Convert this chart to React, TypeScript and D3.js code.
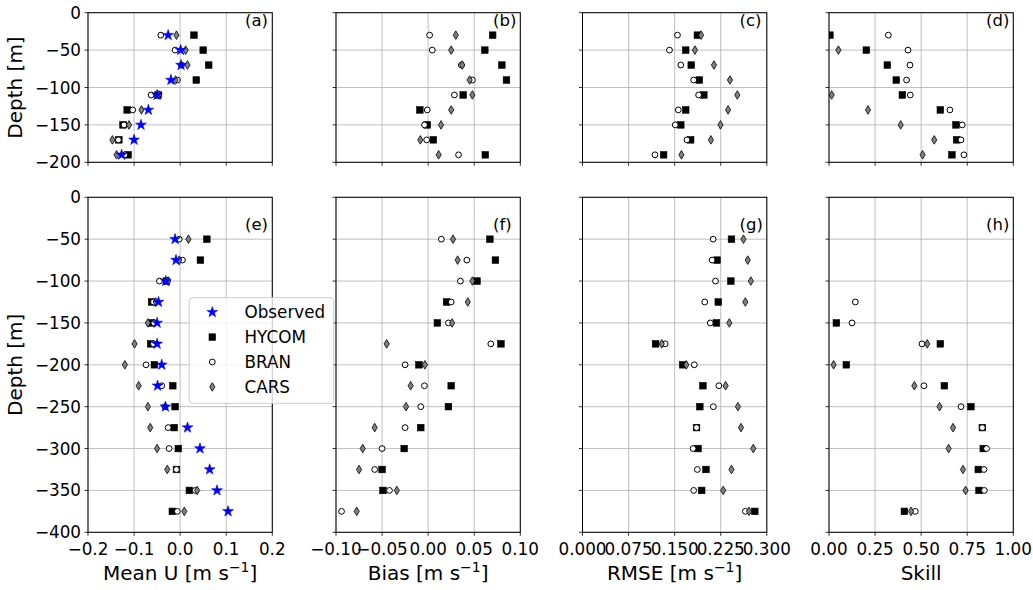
import React from 'react';
import * as d3 from 'd3';

// ---------- data ----------
const depthsTop = [-30, -50, -70, -90, -110, -130, -150, -170, -190];
const depthsBottom = [-50, -75, -100, -125, -150, -175, -200, -225, -250, -275, -300, -325, -350, -375];

// Mean U (a)
const meanObsTop = [-0.026, 0.001, 0.002, -0.02, -0.05, -0.069, -0.085, -0.1, -0.127];
const meanHycomTop = [0.03, 0.05, 0.062, 0.035, -0.048, -0.115, -0.124, -0.133, -0.113];
const meanBranTop = [-0.042, -0.011, 0.003, -0.006, -0.063, -0.103, -0.122, -0.134, -0.12];
const meanCarsTop = [-0.008, 0.012, 0.016, -0.01, -0.046, -0.084, -0.111, -0.147, -0.138];
// Mean U (e)
const meanObsBottom = [-0.011, -0.009, -0.031, -0.047, -0.05, -0.05, -0.04, -0.049, -0.032, 0.016, 0.043, 0.064, 0.08, 0.104];
const meanHycomBottom = [0.058, 0.044, -0.03, -0.062, -0.062, -0.064, -0.056, -0.016, -0.011, -0.013, -0.004, -0.008, 0.02, -0.017];
const meanBranBottom = [-0.002, 0.005, -0.045, -0.058, -0.057, -0.058, -0.074, -0.04, -0.033, -0.026, -0.024, -0.008, 0.033, -0.006];
const meanCarsBottom = [0.018, -0.002, -0.026, -0.053, -0.07, -0.099, -0.12, -0.09, -0.07, -0.065, -0.05, -0.028, 0.037, 0.009];

// Bias (b)
const biasHycomTop = [0.07, 0.0615, 0.08, 0.085, 0.038, -0.009, -0.001, 0.0056, 0.062];
const biasBranTop = [0.0016, 0.0045, 0.036, 0.048, 0.0285, -0.001, -0.004, -0.0016, 0.033];
const biasCarsTop = [0.03, 0.025, 0.037, 0.045, 0.048, 0.025, 0.014, -0.0085, 0.0114];
// Bias (f)
const biasHycomBottom = [0.067, 0.073, 0.053, 0.02, 0.01, 0.079, -0.01, 0.025, 0.022, -0.008, -0.026, -0.05, -0.049, -0.11];
const biasBranBottom = [0.0143, 0.042, 0.035, 0.025, 0.022, 0.068, -0.025, -0.004, -0.008, -0.025, -0.05, -0.058, -0.042, -0.094];
const biasCarsBottom = [0.027, 0.032, 0.048, 0.043, 0.026, -0.045, -0.0035, -0.019, -0.024, -0.058, -0.071, -0.075, -0.034, -0.0775];

// RMSE (c)
const rmseHycomTop = [0.187, 0.168, 0.177, 0.19, 0.1975, 0.168, 0.16, 0.176, 0.132];
const rmseBranTop = [0.1546, 0.1416, 0.16, 0.181, 0.189, 0.156, 0.151, 0.17, 0.118];
const rmseCarsTop = [0.193, 0.183, 0.214, 0.24, 0.252, 0.237, 0.2246, 0.209, 0.161];
// RMSE (g)
const rmseHycomBottom = [0.2425, 0.219, 0.2415, 0.221, 0.218, 0.119, 0.163, 0.196, 0.191, 0.1856, 0.188, 0.201, 0.194, 0.2805];
const rmseBranBottom = [0.2127, 0.211, 0.2165, 0.199, 0.208, 0.1346, 0.182, 0.222, 0.213, 0.1856, 0.18, 0.187, 0.181, 0.265];
const rmseCarsBottom = [0.262, 0.269, 0.274, 0.265, 0.239, 0.129, 0.169, 0.233, 0.253, 0.258, 0.278, 0.2425, 0.229, 0.271];

// Skill (d)
const skillHycomTop = [0.005, 0.2025, 0.3165, 0.365, 0.398, 0.604, 0.689, 0.6926, 0.667];
const skillBranTop = [0.322, 0.4286, 0.4394, 0.421, 0.441, 0.656, 0.723, 0.716, 0.732];
const skillCarsTop = [null, 0.051, -0.016, -0.016, 0.0145, 0.2116, 0.389, 0.571, 0.508];
// Skill (h)
const skillHycomBottom = [null, null, null, null, 0.04, 0.604, 0.094, 0.626, 0.77, 0.832, 0.837, 0.81, 0.814, 0.409];
const skillBranBottom = [null, null, null, 0.143, 0.125, 0.5045, null, 0.515, 0.716, 0.832, 0.855, 0.841, 0.843, 0.468];
const skillCarsBottom = [null, null, null, null, null, 0.533, 0.025, 0.463, 0.6, 0.673, 0.649, 0.727, 0.741, 0.445];

const xTicksMean = [-0.2, -0.1, 0, 0.1, 0.2];
const xTicksBias = [-0.1, -0.05, 0, 0.05, 0.1];
const xTicksRmse = [0, 0.075, 0.15, 0.225, 0.3];
const xTicksSkill = [0, 0.25, 0.5, 0.75, 1];
const yTicksTop = [0, -50, -100, -150, -200];
const yTicksBottom = [0, -50, -100, -150, -200, -250, -300, -350, -400];

const seriesNames = ['Observed', 'HYCOM', 'BRAN', 'CARS'];
const panelLabelsTop = ['(a)', '(b)', '(c)', '(d)'];
const panelLabelsBottom = ['(e)', '(f)', '(g)', '(h)'];

// ---------- layout ----------
const FONT = "'DejaVu Sans', 'Liberation Sans', sans-serif";
const TICK_FS = 16.8;
const LABEL_FS = 20;
const COL_X = [88, 336, 582.5, 829];
const PW = 184.3;
const ROWS = [
  { y: 12.7, h: 149.6, domain: [-200, 0], ticks: yTicksTop, depths: depthsTop },
  { y: 197.3, h: 335, domain: [-400, 0], ticks: yTicksBottom, depths: depthsBottom },
];
const GRID = '#b0b0b0';

type Kind = 'Observed' | 'HYCOM' | 'BRAN' | 'CARS';

const starPath = d3.symbol().type(d3.symbolStar).size(36)() as string;

function Marker({ kind, x, y }: { kind: Kind; x: number; y: number }) {
  if (kind === 'Observed') {
    return <path d={starPath} transform={`translate(${x},${y})`} fill="#0000ff" stroke="#0000ff" strokeWidth={0.6} />;
  }
  if (kind === 'HYCOM') {
    const s = 6.6;
    return <rect x={x - s / 2} y={y - s / 2} width={s} height={s} fill="#000" stroke="#000" strokeWidth={0.6} />;
  }
  if (kind === 'BRAN') {
    return <circle cx={x} cy={y} r={2.9} fill="#fff" stroke="#000" strokeWidth={1} />;
  }
  const hw = 2.6, hh = 4.3;
  return (
    <path
      d={`M${x},${y - hh}L${x + hw},${y}L${x},${y + hh}L${x - hw},${y}Z`}
      fill="#808080"
      stroke="#000"
      strokeWidth={0.8}
    />
  );
}

type Series = { kind: Kind; values: (number | null)[] };

function Panel(props: {
  id: string;
  x0: number;
  row: number;
  xDomain: [number, number];
  xTicks: number[];
  fmt: (v: number) => string;
  series: Series[];
  label: string;
  showXLabels: boolean;
  showYLabels: boolean;
  xLabel?: React.ReactNode;
}) {
  const { id, x0, row, xDomain, xTicks, fmt, series, label, showXLabels, showYLabels, xLabel } = props;
  const R = ROWS[row];
  const x = d3.scaleLinear().domain(xDomain).range([x0, x0 + PW]);
  const y = d3.scaleLinear().domain(R.domain).range([R.y + R.h, R.y]);
  const top = R.y, bottom = R.y + R.h, left = x0, right = x0 + PW;
  return (
    <g>
      <defs>
        <clipPath id={`clip-${id}`}>
          <rect x={left} y={top} width={PW} height={R.h} />
        </clipPath>
      </defs>
      <rect x={left} y={top} width={PW} height={R.h} fill="#fff" />
      {xTicks.map((t, i) => (
        <line key={'gx' + i} x1={x(t)} x2={x(t)} y1={top} y2={bottom} stroke={GRID} strokeWidth={0.8} />
      ))}
      {R.ticks.map((t, i) => (
        <line key={'gy' + i} x1={left} x2={right} y1={y(t)} y2={y(t)} stroke={GRID} strokeWidth={0.8} />
      ))}
      <g clipPath={`url(#clip-${id})`}>
        {series.map((s) =>
          s.values.map((v, i) =>
            v === null ? null : <Marker key={s.kind + i} kind={s.kind} x={x(v)} y={y(R.depths[i])} />
          )
        )}
      </g>
      <rect x={left} y={top} width={PW} height={R.h} fill="none" stroke="#000" strokeWidth={1} />
      {xTicks.map((t, i) => (
        <g key={'tx' + i}>
          <line x1={x(t)} x2={x(t)} y1={bottom} y2={bottom + 3.5} stroke="#000" strokeWidth={0.8} />
          {showXLabels && (
            <text x={x(t)} y={bottom + 22.8} textAnchor="middle" fontSize={TICK_FS} style={{ fontFamily: FONT }} fill="#000">
              {fmt(t)}
            </text>
          )}
        </g>
      ))}
      {R.ticks.map((t, i) => (
        <g key={'ty' + i}>
          <line x1={left - 3.5} x2={left} y1={y(t)} y2={y(t)} stroke="#000" strokeWidth={0.8} />
          {showYLabels && (
            <text x={left - 7} y={y(t)} dy="0.36em" textAnchor="end" fontSize={TICK_FS} style={{ fontFamily: FONT }} fill="#000">
              {d3.format('d')(t)}
            </text>
          )}
        </g>
      ))}
      <text x={left + 157} y={row === 0 ? top + 13 : top + 33} fontSize={16.5} style={{ fontFamily: FONT }} fill="#000">
        {label}
      </text>
      {showYLabels && (
        <text
          transform={`translate(22,${top + R.h / 2}) rotate(-90)`}
          textAnchor="middle"
          fontSize={LABEL_FS}
          style={{ fontFamily: FONT }}
          fill="#000"
        >
          Depth [m]
        </text>
      )}
      {xLabel && (
        <text x={left + PW / 2} y={580} textAnchor="middle" fontSize={LABEL_FS} style={{ fontFamily: FONT }} fill="#000">
          {xLabel}
        </text>
      )}
    </g>
  );
}

function Unit({ name }: { name: string }) {
  return (
    <>
      {name} [m s
      <tspan dy={-8} fontSize={14}>−1</tspan>
      <tspan dy={8}>]</tspan>
    </>
  );
}

export default function App() {
  const f1 = d3.format('.1f');
  const f2 = d3.format('.2f');
  const f3 = d3.format('.3f');
  const cols = [
    {
      domain: [-0.2, 0.2] as [number, number], ticks: xTicksMean, fmt: f1, xLabel: <Unit name="Mean U" />,
      top: [
        { kind: 'HYCOM', values: meanHycomTop }, { kind: 'BRAN', values: meanBranTop },
        { kind: 'CARS', values: meanCarsTop }, { kind: 'Observed', values: meanObsTop },
      ],
      bottom: [
        { kind: 'HYCOM', values: meanHycomBottom }, { kind: 'BRAN', values: meanBranBottom },
        { kind: 'CARS', values: meanCarsBottom }, { kind: 'Observed', values: meanObsBottom },
      ],
    },
    {
      domain: [-0.1, 0.1] as [number, number], ticks: xTicksBias, fmt: f2, xLabel: <Unit name="Bias" />,
      top: [
        { kind: 'HYCOM', values: biasHycomTop }, { kind: 'BRAN', values: biasBranTop }, { kind: 'CARS', values: biasCarsTop },
      ],
      bottom: [
        { kind: 'HYCOM', values: biasHycomBottom }, { kind: 'BRAN', values: biasBranBottom }, { kind: 'CARS', values: biasCarsBottom },
      ],
    },
    {
      domain: [0, 0.3] as [number, number], ticks: xTicksRmse, fmt: f3, xLabel: <Unit name="RMSE" />,
      top: [
        { kind: 'HYCOM', values: rmseHycomTop }, { kind: 'BRAN', values: rmseBranTop }, { kind: 'CARS', values: rmseCarsTop },
      ],
      bottom: [
        { kind: 'HYCOM', values: rmseHycomBottom }, { kind: 'BRAN', values: rmseBranBottom }, { kind: 'CARS', values: rmseCarsBottom },
      ],
    },
    {
      domain: [0, 1] as [number, number], ticks: xTicksSkill, fmt: f2, xLabel: <>Skill</>,
      top: [
        { kind: 'HYCOM', values: skillHycomTop }, { kind: 'BRAN', values: skillBranTop }, { kind: 'CARS', values: skillCarsTop },
      ],
      bottom: [
        { kind: 'HYCOM', values: skillHycomBottom }, { kind: 'BRAN', values: skillBranBottom }, { kind: 'CARS', values: skillCarsBottom },
      ],
    },
  ];

  const legend = { x: 189.3, y: 297.7, w: 144.4, h: 105.6 };

  return (
    <svg
      width={1033}
      height={590}
      style={{ position: 'absolute', left: 0, top: 0, background: '#fff' }}
    >
      <rect width={1033} height={590} fill="#fff" />
      {cols.map((c, ci) => (
        <g key={ci}>
          <Panel
            id={`t${ci}`}
            x0={COL_X[ci]}
            row={0}
            xDomain={c.domain}
            xTicks={c.ticks}
            fmt={c.fmt}
            series={c.top as Series[]}
            label={panelLabelsTop[ci]}
            showXLabels={false}
            showYLabels={ci === 0}
          />
          <Panel
            id={`b${ci}`}
            x0={COL_X[ci]}
            row={1}
            xDomain={c.domain}
            xTicks={c.ticks}
            fmt={c.fmt}
            series={c.bottom as Series[]}
            label={panelLabelsBottom[ci]}
            showXLabels={true}
            showYLabels={ci === 0}
            xLabel={c.xLabel}
          />
        </g>
      ))}
      <g>
        <rect
          x={legend.x}
          y={legend.y}
          width={legend.w}
          height={legend.h}
          rx={3}
          fill="#fff"
          fillOpacity={0.8}
          stroke="#cccccc"
          strokeWidth={1}
        />
        {seriesNames.map((n, i) => {
          const cy = legend.y + 14.5 + i * 24.9;
          return (
            <g key={n}>
              <Marker kind={n as Kind} x={legend.x + 23} y={cy} />
              <text x={legend.x + 55.2} y={cy} dy="0.36em" fontSize={TICK_FS} style={{ fontFamily: FONT }} fill="#000">
                {n}
              </text>
            </g>
          );
        })}
      </g>
    </svg>
  );
}
